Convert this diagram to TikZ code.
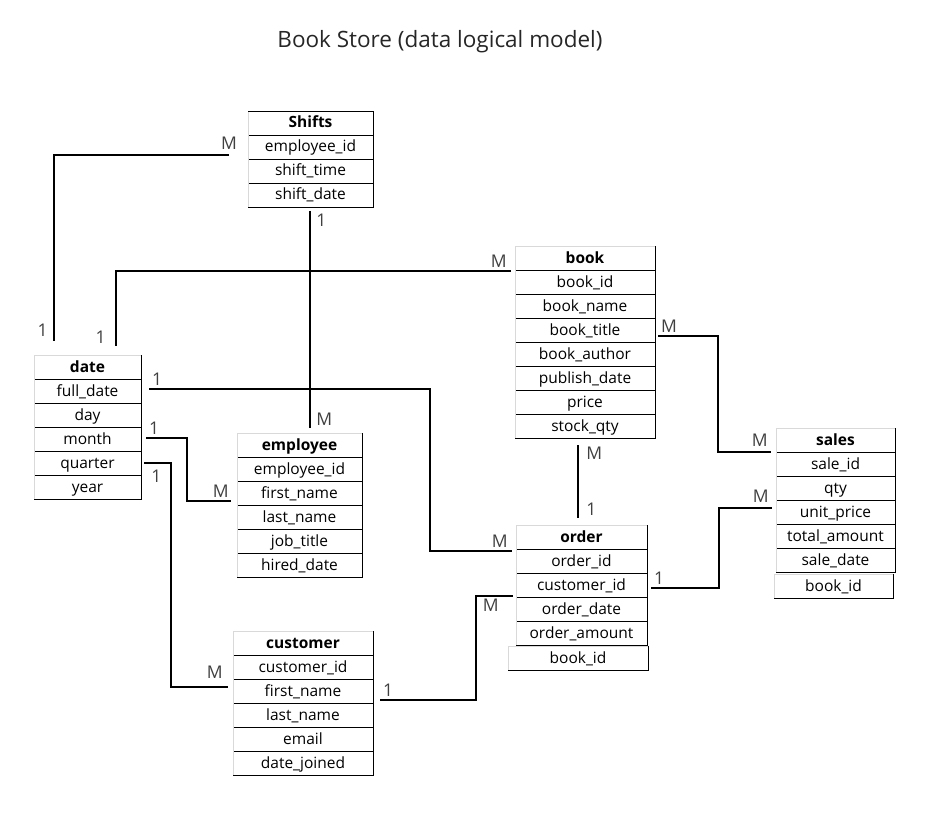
\documentclass[tikz,border=0pt]{standalone}
\usepackage{fontspec}
\setmainfont{Open Sans}
\usetikzlibrary{calc, positioning}

\begin{document}
\begin{tikzpicture}[x=1pt,y=-1pt]
  % Styles
  \tikzset{
    cell/.style={draw=black,line width=0.9pt,inner sep=0pt,outer sep=0pt,
      minimum height=24pt,text height=12.5pt,text depth=2.5pt,
      font=\fontsize{15.5}{18}\selectfont},
    hdr/.style={cell,font=\fontsize{15.5}{18}\selectfont\bfseries},
    rim/.style={draw=gray!30,line width=0.9pt},
    link/.style={line width=2.6pt},
    lbl/.style={font=\fontsize{17.5}{20}\selectfont,text=black!75,inner sep=1pt},
    title/.style={font=\fontsize{22.5}{26}\selectfont,text=black!85}
  }
  \useasboundingbox (0,0) rectangle (929,813);

  % Table macro: #1 name, #2 left x, #3 top y, #4 width, #5 header, #6 fields
  \newcommand{\ertable}[6]{%
    \node[hdr,minimum width=#4pt,anchor=north west] (#1-0) at (#2,#3) {#5};
    \foreach \f [count=\i] in {#6} {
      \pgfmathtruncatemacro{\j}{\i-1}
      \node[cell,minimum width=#4pt,anchor=north] (#1-\i) at (#1-\j.south) {\f};
      \xdef\erlast{\i}
    }
    \draw[rim] (#1-\erlast.south west) -- (#1-0.north west) -- (#1-0.north east);
  }

  % Title
  \node[title] (ttl) at (440,42) {Book Store (data logical model)};

  % Tables
  \ertable{shifts}{248}{111}{125}{Shifts}{employee\_id,shift\_time,shift\_date}
  \draw[line width=0.9pt] (shifts-0.north west) -- (shifts-0.north east);
  \ertable{date}{34}{355}{107}{date}{full\_date,day,month,quarter,year}
  \ertable{book}{515}{246}{140}{book}{book\_id,book\_name,book\_title,book\_author,publish\_date,price,stock\_qty}
  \ertable{employee}{237}{433}{125}{employee}{employee\_id,first\_name,last\_name,job\_title,hired\_date}
  \ertable{sales}{776}{428}{119}{sales}{sale\_id,qty,unit\_price,total\_amount,sale\_date}
  \ertable{order}{516}{525}{131}{order}{order\_id,customer\_id,order\_date,order\_amount}
  \ertable{customer}{233}{631}{140}{customer}{customer\_id,first\_name,last\_name,email,date\_joined}

  % Loose book_id cells
  \node[cell,minimum width=119pt,anchor=north west] (sales-x) at (774,574) {book\_id};
  \node[cell,minimum width=140pt,anchor=north west] (order-x) at (508,646) {book\_id};
  \draw[rim] (sales-x.south west) -- (sales-x.north west) -- (sales-x.north east);
  \draw[rim] (order-x.south west) -- (order-x.north west) -- (order-x.north east);

  % Relationships
  % Shifts -- date
  \draw[link] ([shift={(-19,8)}]shifts-1.west) node[lbl,above=3pt]{M}
    -| ([shift={(-33.5,-14)}]date-0.north) node[lbl,above left=2pt and 4pt]{1};
  % book -- date
  \draw[link] ([shift={(-4,13)}]book-0.west) node[lbl,above left=1pt and 2pt]{M}
    -| ([shift={(28.5,-9)}]date-0.north) node[lbl,above left=0pt and 8pt]{1};
  % Shifts -- employee
  \draw[link] ([shift={(-0.5,4)}]shifts-3.south) node[lbl,below right=1pt and 4pt]{1}
    -- ([shift={(10.5,-5)}]employee-0.north) node[lbl,above right=0pt and 4pt]{M};
  % date -- order
  \draw[link] ([shift={(8,-2)}]date-1.east) node[lbl,above right=1pt]{1}
    -| ([shift={(-86,14)}]order-0.west) -- ([shift={(-4,14)}]order-0.west)
    node[lbl,above left=1pt and 2pt]{M};
  % date -- employee
  \draw[link] ([shift={(5,-1)}]date-3.east) node[lbl,above right=1pt]{1}
    -| ([shift={(-50,8)}]employee-2.west) -- ([shift={(-6,8)}]employee-2.west)
    node[lbl,above left=1pt and 0pt]{M};
  % date -- customer
  \draw[link] ([shift={(3,0)}]date-4.east) node[lbl,below right=5pt and 5pt]{1}
    -| ([shift={(-62,-4)}]customer-2.west) -- ([shift={(-5,-4)}]customer-2.west)
    node[lbl,above left=6pt and 3pt]{M};
  % book -- sales
  \draw[link] ([shift={(3,6)}]book-3.east) node[lbl,above right=1pt]{M}
    -| ([shift={(-58,12)}]sales-0.west) -- ([shift={(-5,12)}]sales-0.west)
    node[lbl,above left=3pt and 1pt]{M};
  % book -- order
  \draw[link] ([shift={(-7,7)}]book-7.south) node[lbl,below right=0pt and 6pt]{M}
    -- ([shift={(-3.5,-7)}]order-0.north) node[lbl,above right=0pt and 6pt]{1};
  % order -- sales
  \draw[link] ([shift={(4,3)}]order-2.east) node[lbl,above right=1pt]{1}
    -| ([shift={(-57,-4)}]sales-3.west) -- ([shift={(-4,-4)}]sales-3.west)
    node[lbl,above left=3pt and 1pt]{M};
  % customer -- order
  \draw[link] ([shift={(7,9)}]customer-2.east) node[lbl,above right=1pt]{1}
    -| ([shift={(-40,11)}]order-2.west) -- ([shift={(-3,11)}]order-2.west)
    node[lbl,below left=1pt and 12pt]{M};

\end{tikzpicture}
\end{document}
